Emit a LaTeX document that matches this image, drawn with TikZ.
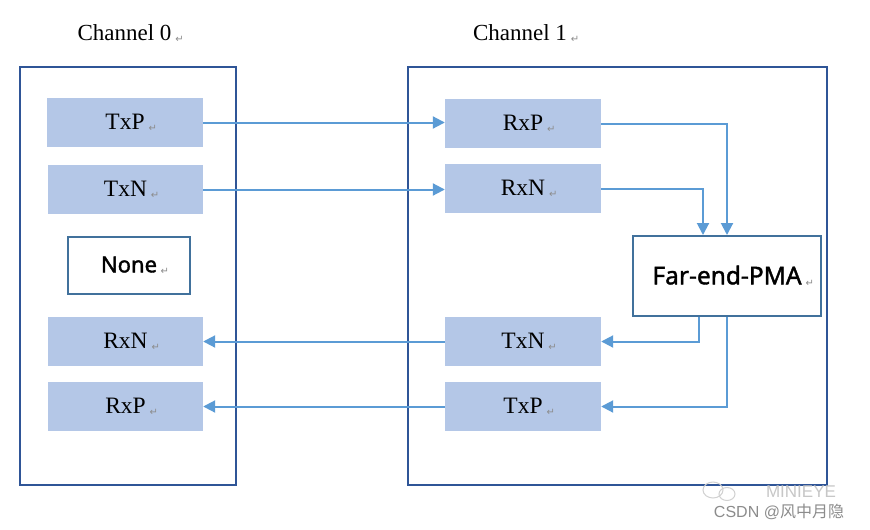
\documentclass[tikz,border=0pt]{standalone}
\usepackage{fontspec}
\setmainfont{Liberation Serif}
\newfontfamily\sansf[FakeBold=1.6]{Noto Sans}
\newfontfamily\symf{DejaVu Sans}
\newfontfamily\cjkf{Noto Sans CJK SC}
\newfontfamily\wmf{Liberation Sans}
\usetikzlibrary{arrows.meta}
\definecolor{boxfill}{HTML}{B4C7E7}
\definecolor{framec}{HTML}{2F5597}
\definecolor{boxline}{HTML}{41719C}
\definecolor{arrc}{HTML}{5B9BD5}
\definecolor{markc}{HTML}{8C8C8C}
\newcommand{\retm}{\,{\fontsize{10}{10}\symf\color{markc}\raisebox{-0.2em}{↵}}}
\tikzset{
  frame/.style={draw=framec, line width=2.6pt, rectangle, inner sep=0pt},
  sig/.style={rectangle, fill=boxfill, inner sep=0pt, minimum width=156pt, minimum height=49pt, font=\fontsize{23.5}{26}\selectfont},
  wbox/.style={rectangle, draw=boxline, line width=2pt, fill=white, inner sep=0pt},
  title/.style={font=\fontsize{23}{26}\selectfont},
  conn/.style={draw=arrc, line width=2pt, -{Triangle[length=12pt,width=12pt]}}
}
\begin{document}
\begin{tikzpicture}[x=1pt,y=-1pt]
\useasboundingbox[fill=white] (0,0) rectangle (870,530);
% frames
\node[frame, minimum width=216pt, minimum height=418pt] (ch0) at (128,276) {};
\node[frame, minimum width=419pt, minimum height=418pt] (ch1) at (617.5,276) {};
\node[title] (t0) at (124.5,34) {Channel 0\rlap{\retm}};
\node[title] (t1) at (520,34) {Channel 1\rlap{\retm}};
% left
\node[sig] (ltxp) at (125,122.5) {TxP\rlap{\retm}};
\node[sig, minimum width=155pt] (ltxn) at (125.5,189.5) {TxN\rlap{\retm}};
\node[wbox, minimum width=122pt, minimum height=57pt, font=\fontsize{22}{24}\sansf] (none) at (129,265.5) {None\rlap{\retm}};
\node[sig, minimum width=155pt] (lrxn) at (125.5,341.5) {RxN\rlap{\retm}};
\node[sig, minimum width=155pt] (lrxp) at (125.5,406.5) {RxP\rlap{\retm}};
% right
\node[sig] (rrxp) at (523,123.5) {RxP\rlap{\retm}};
\node[sig] (rrxn) at (523,188.5) {RxN\rlap{\retm}};
\node[wbox, minimum width=188pt, minimum height=80pt, font=\fontsize{24.5}{26}\sansf] (pma) at (727,276) {Far-end-PMA\rlap{\retm}};
\node[sig] (rtxn) at (523,341.5) {TxN\rlap{\retm}};
\node[sig] (rtxp) at (523,406.5) {TxP\rlap{\retm}};
% connectors
\draw[conn] (ltxp.east) -- (ltxp.east -| rrxp.west);
\draw[conn] (ltxn.east) -- (ltxn.east -| rrxn.west);
\draw[conn] (rrxp.east) -| (pma.north);
\draw[conn] (rrxn.east) -| ([xshift=-24pt]pma.north);
\draw[conn] ([xshift=-28pt]pma.south) |- (rtxn.east);
\draw[conn] (pma.south) |- (rtxp.east);
\draw[conn] (rtxn.west) -- (lrxn.east);
\draw[conn] (rtxp.west) -- (lrxp.east);
% watermark
\node[font=\fontsize{17}{17}\wmf, text=black!22] (wm1) at (801,492) {MINIEYE};
\draw[black!18, line width=1pt] (713,490) ellipse (10pt and 8pt);
\draw[black!18, line width=1pt] (727,494) ellipse (8pt and 6.5pt);
\node[font=\fontsize{16}{16}\wmf, text=black!45] (wm2) at (779,512) {CSDN @{\cjkf 风中月隐}};
\end{tikzpicture}
\end{document}
